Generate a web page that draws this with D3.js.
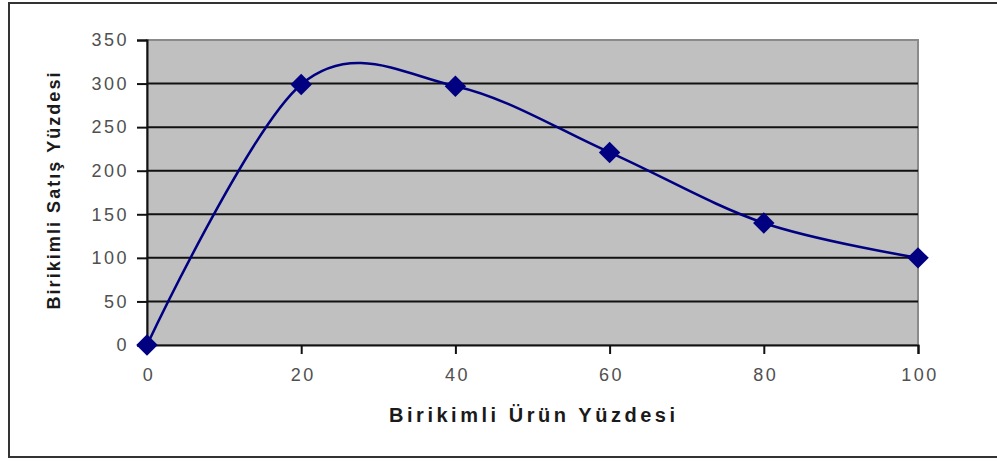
<!DOCTYPE html>
<html>
<head>
<meta charset="utf-8">
<script src="https://cdn.jsdelivr.net/npm/d3@7"></script>
<style>
  body { margin: 0; background: #fff; }
  svg { display: block; }
  .tick text { font-family: "Liberation Sans", Arial, sans-serif; fill: #505050; }
</style>
</head>
<body>
<div id="chart"></div>
<script>
// cumulative product share vs cumulative sales share
const xValues = [0, 20, 40, 60, 80, 100];
const yValues = [0, 299, 297, 221, 140, 100];
const xTicks = [0, 20, 40, 60, 80, 100];
const yTicks = [0, 50, 100, 150, 200, 250, 300, 350];
const xTitle = "Birikimli Ürün Yüzdesi";
const yTitle = "Birikimli Satış Yüzdesi";

const width = 997, height = 461;
const plot = {left: 147, right: 918, top: 40, bottom: 345};

const svg = d3.select("#chart").append("svg")
  .attr("width", width)
  .attr("height", height);

// outer frame (right edge runs off the picture)
svg.append("rect")
  .attr("x", 9).attr("y", 3)
  .attr("width", 1000).attr("height", 454)
  .attr("fill", "none")
  .attr("stroke", "#333")
  .attr("stroke-width", 2);

const x = d3.scaleLinear().domain([0, 100]).range([plot.left, plot.right]);
const y = d3.scaleLinear().domain([0, 350]).range([plot.bottom, plot.top]);

// plot background
svg.append("rect")
  .attr("x", plot.left).attr("y", plot.top)
  .attr("width", plot.right - plot.left)
  .attr("height", plot.bottom - plot.top)
  .attr("fill", "#c0c0c0")
  .attr("stroke", "#8a8a8a")
  .attr("stroke-width", 2);

// horizontal grid
svg.append("g")
  .selectAll("line")
  .data(yTicks.filter(d => d > 0 && d < 350))
  .join("line")
    .attr("x1", plot.left).attr("x2", plot.right)
    .attr("y1", d => y(d)).attr("y2", d => y(d))
    .attr("stroke", "#111")
    .attr("stroke-width", 2);

const yAxis = svg.append("g")
  .attr("transform", `translate(${plot.left},0)`)
  .call(d3.axisLeft(y).tickValues(yTicks).tickSize(10).tickPadding(8));

const xAxis = svg.append("g")
  .attr("transform", `translate(0,${plot.bottom})`)
  .call(d3.axisBottom(x).tickValues(xTicks).tickSize(9).tickPadding(14));

[yAxis, xAxis].forEach(g => {
  g.select(".domain").attr("stroke", "#111").attr("stroke-width", 2);
  g.selectAll(".tick line").attr("stroke", "#111").attr("stroke-width", 2);
  g.selectAll(".tick text")
    .style("font-size", "18px")
    .style("letter-spacing", "2.5px");
});
xAxis.selectAll(".tick text").attr("dx", "1.5px");

// smoothed line, same as excel "smoothed line" option
const points = xValues.map((d, i) => [d, yValues[i]]);
const line = d3.line()
  .x(d => x(d[0]))
  .y(d => y(d[1]))
  .curve(d3.curveCatmullRom.alpha(0));

svg.append("path")
  .datum(points)
  .attr("d", line)
  .attr("fill", "none")
  .attr("stroke", "#000080")
  .attr("stroke-width", 2.5);

// diamond markers
svg.append("g")
  .selectAll("path")
  .data(points)
  .join("path")
    .attr("d", d3.symbol().type(d3.symbolSquare).size(230))
    .attr("transform", d => `translate(${x(d[0])},${y(d[1])}) rotate(45)`)
    .attr("fill", "#000080");

// axis titles
svg.append("text")
  .attr("x", 532).attr("y", 422)
  .attr("text-anchor", "middle")
  .attr("textLength", 286)
  .attr("lengthAdjust", "spacing")
  .style("font-family", "'Liberation Sans', Arial, sans-serif")
  .style("font-weight", "bold")
  .style("font-size", "20px")
  .attr("fill", "#1a1a1a")
  .text(xTitle);

svg.append("text")
  .attr("transform", "translate(60,191) rotate(-90)")
  .attr("text-anchor", "middle")
  .attr("textLength", 237)
  .attr("lengthAdjust", "spacing")
  .style("font-family", "'Liberation Sans', Arial, sans-serif")
  .style("font-weight", "bold")
  .style("font-size", "18px")
  .attr("fill", "#1a1a1a")
  .text(yTitle);
</script>
</body>
</html>
